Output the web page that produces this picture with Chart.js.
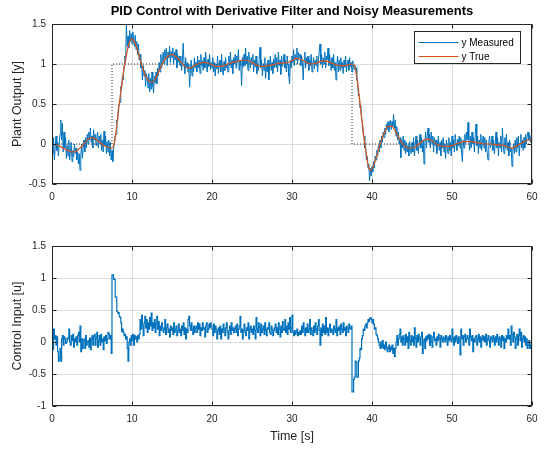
<!DOCTYPE html>
<html><head><meta charset="utf-8">
<script src="https://cdn.jsdelivr.net/npm/chart.js@4/dist/chart.umd.min.js"></script>
<style>
html,body{margin:0;padding:0;background:#fff;}
#wrap{position:relative;width:546px;height:450px;background:#fff;}
canvas{position:absolute;left:0;}
#c1{top:0;}
#c2{top:210px;}
</style></head>
<body><div id="wrap">
<canvas id="c1" width="546" height="210" style="width:546px;height:210px"></canvas>
<canvas id="c2" width="546" height="240" style="width:546px;height:240px"></canvas>
</div>
<script>
// ---- data (sample time 0.1 s, 0..60 s) ----
const sampleStep = 0.1;
const yMeasured = [
 0.05,-0.12,0.08,-0.2,-0.05,0.1,-0.08,0.02,-0.15,0.0,
 0.12,0.3,0.05,0.26,-0.1,0.15,-0.05,0.08,-0.18,-0.02,
 -0.15,0.05,-0.2,-0.1,0.02,-0.22,-0.08,-0.16,0.0,-0.12,
 -0.05,-0.2,-0.1,-0.25,-0.12,-0.33,-0.15,0.0,-0.18,-0.05,
 0.05,-0.1,0.08,-0.05,0.12,0.0,0.15,0.05,0.2,0.02,
 0.1,-0.05,0.18,0.05,0.12,-0.02,0.08,0.15,-0.05,0.1,
 0.0,0.12,-0.08,0.05,-0.1,0.16,-0.02,0.1,-0.12,0.03,
 -0.1,0.05,-0.15,0.02,-0.2,-0.08,-0.22,-0.05,0.0,0.1,
 0.12,0.3,0.28,0.45,0.5,0.52,0.72,0.68,0.85,0.8,
 0.98,1.1,1.02,1.5,1.22,1.35,1.2,1.42,1.28,1.38,
 1.25,1.4,1.3,1.22,1.36,1.18,1.28,1.12,1.25,1.05,
 1.12,0.95,1.02,0.8,0.98,0.85,0.92,0.72,0.88,0.82,
 0.7,0.88,0.65,0.82,0.68,0.9,0.72,0.64,0.85,0.76,
 0.9,0.75,0.95,0.85,1.02,0.9,1.12,0.95,1.05,1.15,
 1.0,1.18,1.05,1.2,0.98,1.15,1.08,1.22,1.02,1.16,
 1.08,1.2,1.0,1.15,1.05,1.18,0.95,1.12,1.02,1.1,
 0.98,1.1,0.92,1.05,1.26,1.0,0.88,1.08,0.95,1.02,
 0.9,1.0,0.71,0.92,1.05,0.85,0.98,0.9,1.08,0.95,
 1.02,0.9,1.1,0.95,1.05,0.88,1.12,0.98,1.04,0.92,
 1.08,0.95,1.15,1.0,0.9,1.06,0.97,1.12,0.93,1.02,
 0.95,1.08,0.9,1.02,0.85,1.0,0.94,1.1,0.88,0.98,
 1.05,0.9,1.12,0.96,0.86,1.03,0.92,1.08,0.95,0.99,
 0.9,1.1,0.98,1.15,0.95,1.05,0.88,1.08,1.0,1.12,
 0.95,1.1,1.02,1.18,0.92,1.05,0.98,0.73,1.08,0.96,
 1.12,0.98,1.2,1.0,1.1,0.92,1.15,1.04,0.95,1.08,
 1.0,1.12,0.9,1.05,0.96,1.1,0.88,1.0,0.92,1.06,
 1.21,0.95,1.05,0.85,1.0,0.92,1.08,0.82,0.98,0.9,
 1.05,0.8,0.98,1.1,0.92,1.02,0.88,1.06,0.95,1.12,
 0.96,1.08,0.9,1.15,0.98,1.05,0.87,1.1,0.97,1.02,
 1.12,0.95,1.05,0.9,1.1,1.0,0.85,0.75,1.05,0.95,
 1.1,1.02,1.18,0.98,1.12,1.05,1.2,1.0,1.15,1.08,
 1.12,0.98,1.1,1.02,0.8,1.05,1.15,0.95,1.08,1.0,
 1.1,0.92,1.05,0.98,1.12,0.9,1.0,1.08,0.94,1.05,
 0.98,1.1,0.9,1.05,1.15,1.25,1.0,1.12,0.95,1.08,
 1.0,1.15,0.95,1.1,1.05,1.2,0.98,1.12,1.02,0.92,
 1.08,0.95,1.12,0.92,1.02,0.8,1.0,1.1,0.9,1.05,
 0.92,1.08,0.95,1.02,0.88,1.05,0.96,1.1,0.9,1.0,
 1.05,0.92,1.08,0.96,1.02,0.9,1.04,0.97,0.93,0.98,
 0.95,0.8,0.78,0.6,0.62,0.45,0.48,0.3,0.28,0.12,
 0.1,-0.05,-0.02,-0.2,-0.15,-0.3,-0.25,-0.46,-0.3,-0.4,
 -0.28,-0.35,-0.22,-0.3,-0.15,-0.2,-0.08,-0.15,-0.02,-0.1,
 0.05,-0.05,0.1,0.02,0.15,0.08,0.2,0.12,0.25,0.18,
 0.28,0.15,0.25,0.3,0.18,0.28,0.22,0.37,0.2,0.3,
 0.1,0.22,0.05,0.15,0.0,0.08,-0.17,0.05,-0.05,0.1,
 -0.08,0.05,-0.12,0.02,-0.1,-0.02,-0.15,0.03,-0.08,-0.12,
 0.02,-0.1,0.08,-0.15,-0.02,0.1,-0.08,0.05,-0.12,0.0,
 0.12,-0.05,0.08,-0.1,0.05,-0.25,0.0,0.15,-0.05,0.1,
 0.2,0.02,0.12,-0.05,0.15,0.0,0.1,-0.1,0.08,-0.02,
 0.05,-0.12,0.0,0.1,-0.08,0.02,-0.15,0.05,-0.05,0.08,
 -0.1,0.0,-0.18,0.05,-0.05,-0.12,0.08,-0.08,0.02,-0.15,
 0.1,-0.05,0.05,-0.1,0.12,0.0,-0.08,0.06,-0.02,0.1,
 -0.05,0.08,-0.1,-0.22,0.05,-0.05,0.12,0.0,0.15,0.05,
 0.27,0.05,-0.08,0.1,-0.05,0.15,0.0,0.08,-0.1,0.12,
 0.25,-0.02,0.1,-0.12,0.05,-0.05,0.12,-0.08,0.02,0.1,
 -0.05,0.08,-0.1,0.05,-0.12,-0.2,0.02,0.1,-0.05,0.0,
 0.1,-0.08,0.05,-0.12,0.0,0.15,-0.05,0.08,-0.15,0.02,
 -0.05,0.1,-0.1,0.2,0.0,-0.12,0.08,-0.05,0.12,-0.08,
 0.02,-0.15,0.05,-0.1,-0.05,-0.28,-0.08,0.0,-0.12,0.05,
 -0.1,0.08,-0.05,0.1,-0.15,0.0,0.12,-0.05,0.05,-0.08,
 0.08,-0.05,0.12,0.0,0.1,0.15,0.05,0.12,0.02,0.1,
 0.08
];
const controlInput = [
 -0.1,-0.12,0.2,0.05,0.1,-0.05,0.08,-0.15,-0.3,-0.25,
 -0.1,-0.3,0.05,0.1,-0.05,0.08,0.05,-0.02,0.0,0.06,
 0.05,0.2,0.0,-0.05,0.1,0.02,0.12,-0.08,0.05,0.0,
 0.08,-0.05,0.1,0.15,0.0,0.25,-0.15,0.05,-0.1,0.02,
 0.05,-0.1,0.1,-0.05,0.0,0.02,-0.08,0.06,-0.12,0.05,
 0.1,-0.05,0.08,0.12,-0.05,0.05,0.15,-0.08,0.02,0.1,
 -0.05,0.12,0.0,0.05,-0.12,0.08,0.02,0.1,-0.02,0.05,
 0.15,0.12,0.05,0.1,-0.18,1.05,1.05,0.98,0.98,0.7,
 0.7,0.48,0.45,0.46,0.4,0.38,0.3,0.16,0.2,0.15,
 0.1,0.12,0.05,0.08,-0.1,-0.3,0.0,0.05,-0.05,0.1,
 0.02,0.12,-0.05,0.1,0.05,0.08,0.0,0.1,0.05,0.12,
 0.35,0.2,0.42,0.25,0.1,0.3,0.4,0.22,0.35,0.15,
 0.3,0.2,0.38,0.25,0.45,0.18,0.3,0.22,0.35,0.15,
 0.28,0.4,0.2,0.32,0.1,0.25,0.18,0.3,0.22,0.15,
 0.2,0.35,0.12,0.22,0.28,0.15,0.2,0.08,0.25,0.18,
 0.22,0.12,0.3,0.15,0.2,0.25,0.1,0.18,0.28,0.15,
 0.2,0.1,0.25,0.18,0.3,0.12,0.22,0.05,0.2,0.15,
 0.35,0.4,0.25,0.18,0.3,0.2,0.12,0.25,0.15,0.22,
 0.25,0.15,0.3,0.2,0.28,0.1,0.22,0.18,0.3,0.2,
 0.22,0.08,0.25,0.3,0.15,0.2,0.28,0.22,0.3,0.25,
 0.2,0.1,0.28,0.15,0.25,0.2,0.05,0.18,0.22,0.12,
 0.25,0.05,0.2,0.15,0.28,0.2,0.1,0.22,0.3,0.15,
 0.05,0.18,0.25,0.12,0.3,0.18,0.22,0.15,0.2,0.25,
 0.15,0.28,0.1,0.2,0.25,0.4,0.15,0.2,0.05,0.18,
 0.28,0.15,0.1,0.22,0.18,0.3,0.05,0.2,0.25,0.15,
 0.2,0.12,0.25,0.18,0.05,0.38,0.2,0.15,0.3,0.22,
 0.1,0.28,0.15,0.2,0.25,0.12,0.3,0.18,0.1,0.22,
 0.2,0.3,0.15,0.12,0.25,0.2,0.1,0.18,0.22,0.28,
 0.15,0.22,0.12,0.3,0.2,0.08,0.25,0.15,0.32,0.2,
 0.18,0.35,0.15,0.25,0.12,0.3,0.2,0.38,0.15,0.22,
 0.42,0.15,0.1,0.18,0.12,0.15,0.2,0.1,0.15,0.12,
 0.18,0.12,0.25,0.15,0.3,0.2,0.1,0.22,0.15,0.28,
 0.15,0.2,0.35,0.12,0.22,0.18,0.1,0.25,0.15,0.3,
 0.2,0.12,0.25,0.35,0.18,-0.05,0.22,0.1,0.28,0.15,
 0.25,0.12,0.38,0.15,0.22,0.1,0.2,0.28,0.15,0.2,
 0.18,0.12,0.25,0.2,0.15,0.35,0.1,0.22,0.18,0.25,
 0.12,0.28,0.2,0.15,0.3,0.18,0.22,0.1,0.25,0.2,
 0.15,0.28,0.22,0.2,0.25,-0.78,-0.78,-0.58,-0.55,-0.3,
 -0.32,-0.55,-0.55,-0.3,-0.25,-0.1,-0.12,0.05,0.1,0.2,
 0.18,0.25,0.28,0.22,0.3,0.35,0.32,0.37,0.38,0.35,
 0.3,0.35,0.28,0.2,0.22,0.12,0.1,0.05,0.0,-0.05,
 -0.1,0.0,-0.08,0.02,-0.1,-0.05,-0.12,0.0,-0.08,-0.15,
 -0.1,-0.05,-0.15,-0.08,-0.12,-0.05,-0.18,-0.1,-0.23,-0.1,
 0.0,0.1,-0.05,0.05,0.12,0.2,0.0,0.08,-0.05,0.1,
 0.05,-0.05,0.12,0.0,0.08,-0.1,0.15,0.02,-0.05,0.1,
 0.0,0.08,-0.05,0.22,0.05,-0.08,0.1,0.0,0.12,0.05,
 -0.05,0.08,0.15,-0.18,0.0,0.05,-0.1,0.08,0.02,0.1,
 0.05,0.12,-0.05,0.1,0.0,-0.08,0.08,0.15,0.02,0.05,
 -0.05,0.08,0.02,0.12,0.05,-0.08,0.1,0.05,0.0,0.08,
 0.05,0.0,0.1,0.05,-0.05,0.08,0.02,0.1,0.05,0.0,
 0.2,0.05,-0.05,0.08,0.0,0.1,0.05,-0.02,0.08,0.02,
 -0.2,0.2,0.05,0.1,-0.05,0.08,0.12,0.0,0.05,0.1,
 0.05,-0.05,0.2,0.08,0.02,0.1,-0.15,0.05,0.0,0.08,
 0.1,-0.05,0.05,0.12,0.0,0.08,-0.08,0.05,0.1,0.02,
 0.08,0.0,0.12,-0.05,0.05,0.1,0.02,-0.08,0.08,0.05,
 0.0,0.1,0.05,-0.05,0.08,0.0,0.12,0.05,-0.05,0.08,
 0.05,-0.08,0.1,0.02,0.08,-0.1,0.05,0.0,0.1,0.05,
 0.2,0.05,0.1,-0.05,0.25,0.12,0.0,0.15,0.08,-0.1,
 0.05,0.12,-0.05,0.1,0.2,0.02,0.15,-0.08,0.05,0.1,
 0.0,0.08,-0.05,0.05,-0.1,-0.05,0.02,-0.1,-0.05,0.0,
 -0.05
];
const trueTime = [0,0.5,1,1.5,2,2.5,3,3.5,4,4.5,5,5.5,6,6.5,7,7.5,7.8,
 8,8.2,8.4,8.6,8.8,9,9.2,9.4,9.6,9.8,10,10.2,
 10.5,11,11.5,12,12.5,13,13.5,14,14.5,15,15.5,16,16.5,17,17.5,18,18.5,19,19.5,20,
 20.5,21,21.5,22,22.5,23,23.5,24,24.5,25,25.5,26,26.5,27,27.5,28,28.5,29,29.5,30,
 30.5,31,31.5,32,32.5,33,33.5,34,34.5,35,35.5,36,36.5,37,37.5,37.8,
 38,38.2,38.4,38.6,38.8,39,39.2,39.4,39.6,39.8,
 40,40.5,41,41.5,42,42.5,43,43.5,44,44.5,45,45.5,46,46.5,47,47.5,48,48.5,49,49.5,50,
 50.5,51,51.5,52,52.5,53,53.5,54,54.5,55,55.5,56,56.5,57,57.5,58,58.5,59,59.5,60];
const yTrue = [0,-0.01,-0.03,-0.06,-0.08,-0.1,-0.09,-0.05,0,0.06,0.08,0.06,0.02,-0.02,-0.04,-0.05,0.02,
 0.15,0.32,0.5,0.66,0.8,0.94,1.06,1.16,1.25,1.3,1.31,1.29,
 1.23,1.06,0.9,0.8,0.77,0.83,0.94,1.04,1.1,1.12,1.09,1.04,0.98,0.95,0.96,0.99,1.01,1.02,1.01,0.99,
 0.97,0.97,0.98,1.0,1.02,1.03,1.04,1.05,1.04,1.02,0.99,0.97,0.97,0.98,0.99,1.0,1.01,1.01,1.02,1.04,
 1.07,1.06,1.04,1.01,1.0,1.01,1.03,1.04,1.03,1.01,0.99,0.98,0.98,0.99,1.0,0.98,
 0.9,0.76,0.6,0.42,0.25,0.08,-0.07,-0.2,-0.3,-0.33,
 -0.31,-0.18,-0.01,0.13,0.22,0.22,0.14,0.05,-0.02,-0.05,-0.05,-0.03,0.01,0.05,0.06,0.04,0.0,-0.02,-0.03,-0.03,-0.02,
 0.0,0.02,0.03,0.03,0.03,0.02,0.01,0.0,0.0,0.0,-0.01,-0.01,-0.02,-0.04,-0.05,-0.03,0.0,0.03,0.05,0.05];
const setpointTime = [0,7.5,37.5,60];
const setpointValue = [0,1,0,0];
const topYTicks = [-0.5,0,0.5,1,1.5];
const botYTicks = [-1,-0.5,0,0.5,1,1.5];
const xTicks = [0,10,20,30,40,50,60];

// ---- styling ----
const FONT = '"Liberation Sans", Arial, Helvetica, sans-serif';
Chart.defaults.font.family = FONT;
Chart.defaults.color = '#262626';
const AX = '#262626', GRID = '#dcdcdc';
const BLUE = '#0072BD', ORANGE = '#D95319';

const sampleTimes = yMeasured.map((_, i) => Math.round(i * sampleStep * 10) / 10);
const pts = (xs, ys) => xs.map((x, i) => ({x, y: ys[i]}));

const boxPlugin = {
  id: 'mbox',
  afterDatasetsDraw(chart) {
    const {ctx, chartArea: ca, scales} = chart;
    const L = Math.round(ca.left) + 0.5, R = Math.round(ca.right) - 0.5;
    const T = Math.round(ca.top) + 0.5, B = Math.round(ca.bottom) - 0.5;
    ctx.save();
    ctx.strokeStyle = AX; ctx.lineWidth = 1;
    ctx.strokeRect(L, T, R - L, B - T);
    const tl = 4;
    ctx.beginPath();
    scales.x.ticks.forEach(tk => {
      const px = Math.round(scales.x.getPixelForValue(tk.value)) + 0.5;
      ctx.moveTo(px, B); ctx.lineTo(px, B - tl);
      ctx.moveTo(px, T); ctx.lineTo(px, T + tl);
    });
    scales.y.ticks.forEach(tk => {
      const py = Math.round(scales.y.getPixelForValue(tk.value)) + 0.5;
      ctx.moveTo(L, py); ctx.lineTo(L + tl, py);
      ctx.moveTo(R, py); ctx.lineTo(R - tl, py);
    });
    ctx.stroke();
    ctx.restore();
  }
};

const legendPlugin = {
  id: 'mlegend',
  afterDatasetsDraw(chart) {
    const {ctx, chartArea: ca} = chart;
    const items = chart.data.datasets.filter(d => d.inLegend);
    const w = 106, h = 32;
    const x0 = Math.round(ca.right - 12 - w) + 0.5, y0 = Math.round(ca.top + 7) + 0.5;
    ctx.save();
    ctx.fillStyle = '#fff'; ctx.fillRect(x0, y0, w, h);
    ctx.strokeStyle = AX; ctx.lineWidth = 1; ctx.strokeRect(x0, y0, w, h);
    ctx.font = '10px ' + FONT; ctx.textBaseline = 'middle'; ctx.textAlign = 'left';
    items.forEach((d, i) => {
      const yy = Math.round(y0 + 10 + i * 14) + 0.5;
      ctx.strokeStyle = d.borderColor; ctx.lineWidth = 1;
      ctx.beginPath(); ctx.moveTo(x0 + 4, yy); ctx.lineTo(x0 + 44, yy); ctx.stroke();
      ctx.fillStyle = '#000';
      ctx.fillText(d.label, x0 + 47, yy + 0.5);
    });
    ctx.restore();
  }
};

function fmt(v) { return String(Math.round(v * 100) / 100); }

function xScale(h, title) {
  return {
    type: 'linear', min: 0, max: 60,
    afterFit: s => { s.height = h; },
    afterBuildTicks: s => { s.ticks = xTicks.map(v => ({value: v})); },
    grid: {color: GRID, lineWidth: 1, drawTicks: false},
    border: {display: false},
    ticks: {padding: 7, autoSkip: false, maxRotation: 0, color: AX, font: {size: 10}, callback: fmt},
    title: title ? {display: true, text: title, color: AX, font: {size: 12.5}, padding: {top: 0, bottom: 5.5}} : {display: false}
  };
}
function yScale(min, max, ticks, title) {
  return {
    type: 'linear', min, max,
    afterFit: s => { s.width = 52; },
    afterBuildTicks: s => { s.ticks = ticks.map(v => ({value: v})); },
    grid: {color: GRID, lineWidth: 1, drawTicks: false},
    border: {display: false},
    ticks: {padding: 6, color: AX, font: {size: 10}, callback: fmt},
    title: {display: true, text: title, color: AX, font: {size: 12.5}, padding: {top: 10.5, bottom: 0}}
  };
}

const common = {
  responsive: false, animation: false, devicePixelRatio: 1, events: [],
  parsing: false
};

new Chart(document.getElementById('c1'), {
  type: 'line',
  data: {
    datasets: [
      {label: 'y Measured', inLegend: true, data: pts(sampleTimes, yMeasured), borderColor: BLUE, borderWidth: 1, pointRadius: 0, tension: 0, order: 1},
      {label: 'y True', inLegend: true, data: pts(trueTime, yTrue), borderColor: ORANGE, borderWidth: 1.2, pointRadius: 0, cubicInterpolationMode: 'monotone', order: 0},
      {label: 'Setpoint', inLegend: false, data: pts(setpointTime, setpointValue), borderColor: '#333', borderWidth: 1, borderDash: [1, 2], stepped: 'before', pointRadius: 0, order: 2}
    ]
  },
  options: Object.assign({}, common, {
    layout: {padding: {left: 0, right: 14, top: 0, bottom: 0}},
    scales: {x: xScale(26, null), y: yScale(-0.5, 1.5, topYTicks, 'Plant Output [y]')},
    plugins: {
      legend: {display: false}, tooltip: {enabled: false},
      title: {display: true, fullSize: false, text: 'PID Control with Derivative Filter and Noisy Measurements', color: '#000',
              font: {size: 13, weight: 'bold'}, padding: {top: 4, bottom: 4.4}}
    }
  }),
  plugins: [boxPlugin, legendPlugin]
});

new Chart(document.getElementById('c2'), {
  type: 'line',
  data: {
    datasets: [
      {label: 'Control Input', data: pts(sampleTimes, controlInput), borderColor: BLUE, borderWidth: 1.2, pointRadius: 0, stepped: 'before'}
    ]
  },
  options: Object.assign({}, common, {
    layout: {padding: {left: 0, right: 14, top: 36, bottom: 0}},
    scales: {x: xScale(44, 'Time [s]'), y: yScale(-1, 1.5, botYTicks, 'Control Input [u]')},
    plugins: {legend: {display: false}, tooltip: {enabled: false}, title: {display: false}}
  }),
  plugins: [boxPlugin]
});
</script>
</body></html>
